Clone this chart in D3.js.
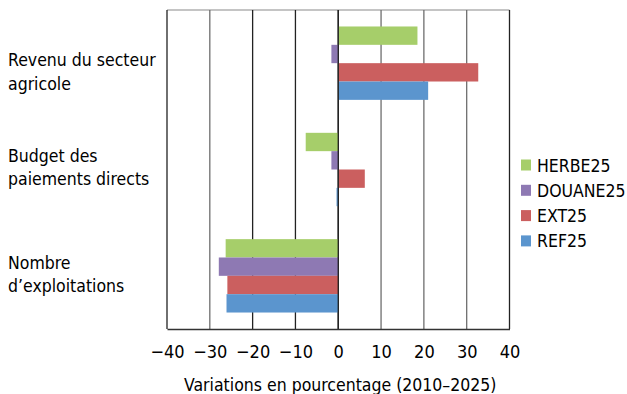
<!DOCTYPE html>
<html><head><meta charset="utf-8">
<script src="https://cdn.jsdelivr.net/npm/d3@7"></script>
<style>body{margin:0;background:#fff}svg{display:block}text{font-family:"Liberation Sans Narrow","DejaVu Sans Condensed","Liberation Sans",sans-serif;fill:#000}</style>
</head><body><svg id="c" width="627" height="394"></svg>
<script>
const categories = [["Revenu du secteur","agricole"],["Budget des","paiements directs"],["Nombre","d\u2019exploitations"]];
const series = ["HERBE25","DOUANE25","EXT25","REF25"];
const colors = ["#A6CE6A","#8E79B3","#CB5F5F","#5B95CE"];
const HERBE25 = [18.5,-7.6,-26.3];
const DOUANE25 = [-1.6,-1.6,-27.9];
const EXT25 = [32.7,6.2,-25.9];
const REF25 = [21.0,-0.4,-26.1];
const values = [HERBE25,DOUANE25,EXT25,REF25];
const ticks = [-40,-30,-20,-10,0,10,20,30,40];
const xTitle = "Variations en pourcentage (2010\u20132025)";

const svg = d3.select("#c");
const pL=167, pR=509.5, pT=10, pB=329;
const x = d3.scaleLinear().domain([-40,40]).range([pL,pR]);
const y = d3.scaleBand().domain(d3.range(categories.length)).range([pT,pB]).paddingInner(0.31).paddingOuter(0.155);
const ys = d3.scaleBand().domain(series).range([0,y.bandwidth()]);

// top border
svg.append("line").attr("x1",pL).attr("x2",pR).attr("y1",pT).attr("y2",pT).attr("stroke","#8a8a8a").attr("stroke-width",1.2);
// gridlines
svg.append("g").selectAll("line").data(ticks).join("line")
  .attr("x1",d=>x(d)).attr("x2",d=>x(d)).attr("y1",pT).attr("y2",pB)
  .attr("stroke",d=>(d>0&&d<40)||d===-30?"#6e6e6e":"#222").attr("stroke-width",1.3);

// bars
series.forEach((s,si)=>{
  svg.append("g").selectAll("rect").data(values[si]).join("rect")
    .attr("x",d=>x(Math.min(0,d)))
    .attr("width",d=>Math.abs(x(d)-x(0)))
    .attr("y",(d,i)=>y(i)+ys(s))
    .attr("height",ys.bandwidth())
    .attr("fill",colors[si]);
});

// zero line on top
svg.append("line").attr("x1",x(0)).attr("x2",x(0)).attr("y1",pT).attr("y2",pB).attr("stroke","#222").attr("stroke-width",1.3);

// x axis
const fmt = d=> d<0 ? "\u2212"+Math.abs(d) : String(d);
const ax = svg.append("g").attr("transform",`translate(0,${pB})`)
  .call(d3.axisBottom(x).tickValues(ticks).tickFormat(fmt).tickSize(0).tickPadding(16));
ax.select(".domain").attr("stroke","#333").attr("stroke-width",1.3);
ax.selectAll("text").style("font-size","18px").attr("fill","#000");

svg.append("text").attr("x",(pL+pR)/2+2).attr("y",391).attr("text-anchor","middle")
  .style("font-size","17.5px").text(xTitle);

// category labels
const labelShift = [9,-2,-1];
categories.forEach((lines,i)=>{
  const cy = y(i)+y.bandwidth()/2 + labelShift[i];
  const t = svg.append("text").attr("x",8).style("font-size","17.5px");
  lines.forEach((l,j)=>t.append("tspan").attr("x",8).attr("y",cy-6+j*23.5).text(l));
});

// legend
const lg = svg.append("g");
series.forEach((s,i)=>{
  const yy = 165+i*25.3;
  lg.append("rect").attr("x",521).attr("y",yy-5.5).attr("width",10).attr("height",11).attr("fill",colors[i]);
  lg.append("text").attr("x",537).attr("y",yy+6.5).style("font-size","17.5px").text(s);
});
</script></body></html>
